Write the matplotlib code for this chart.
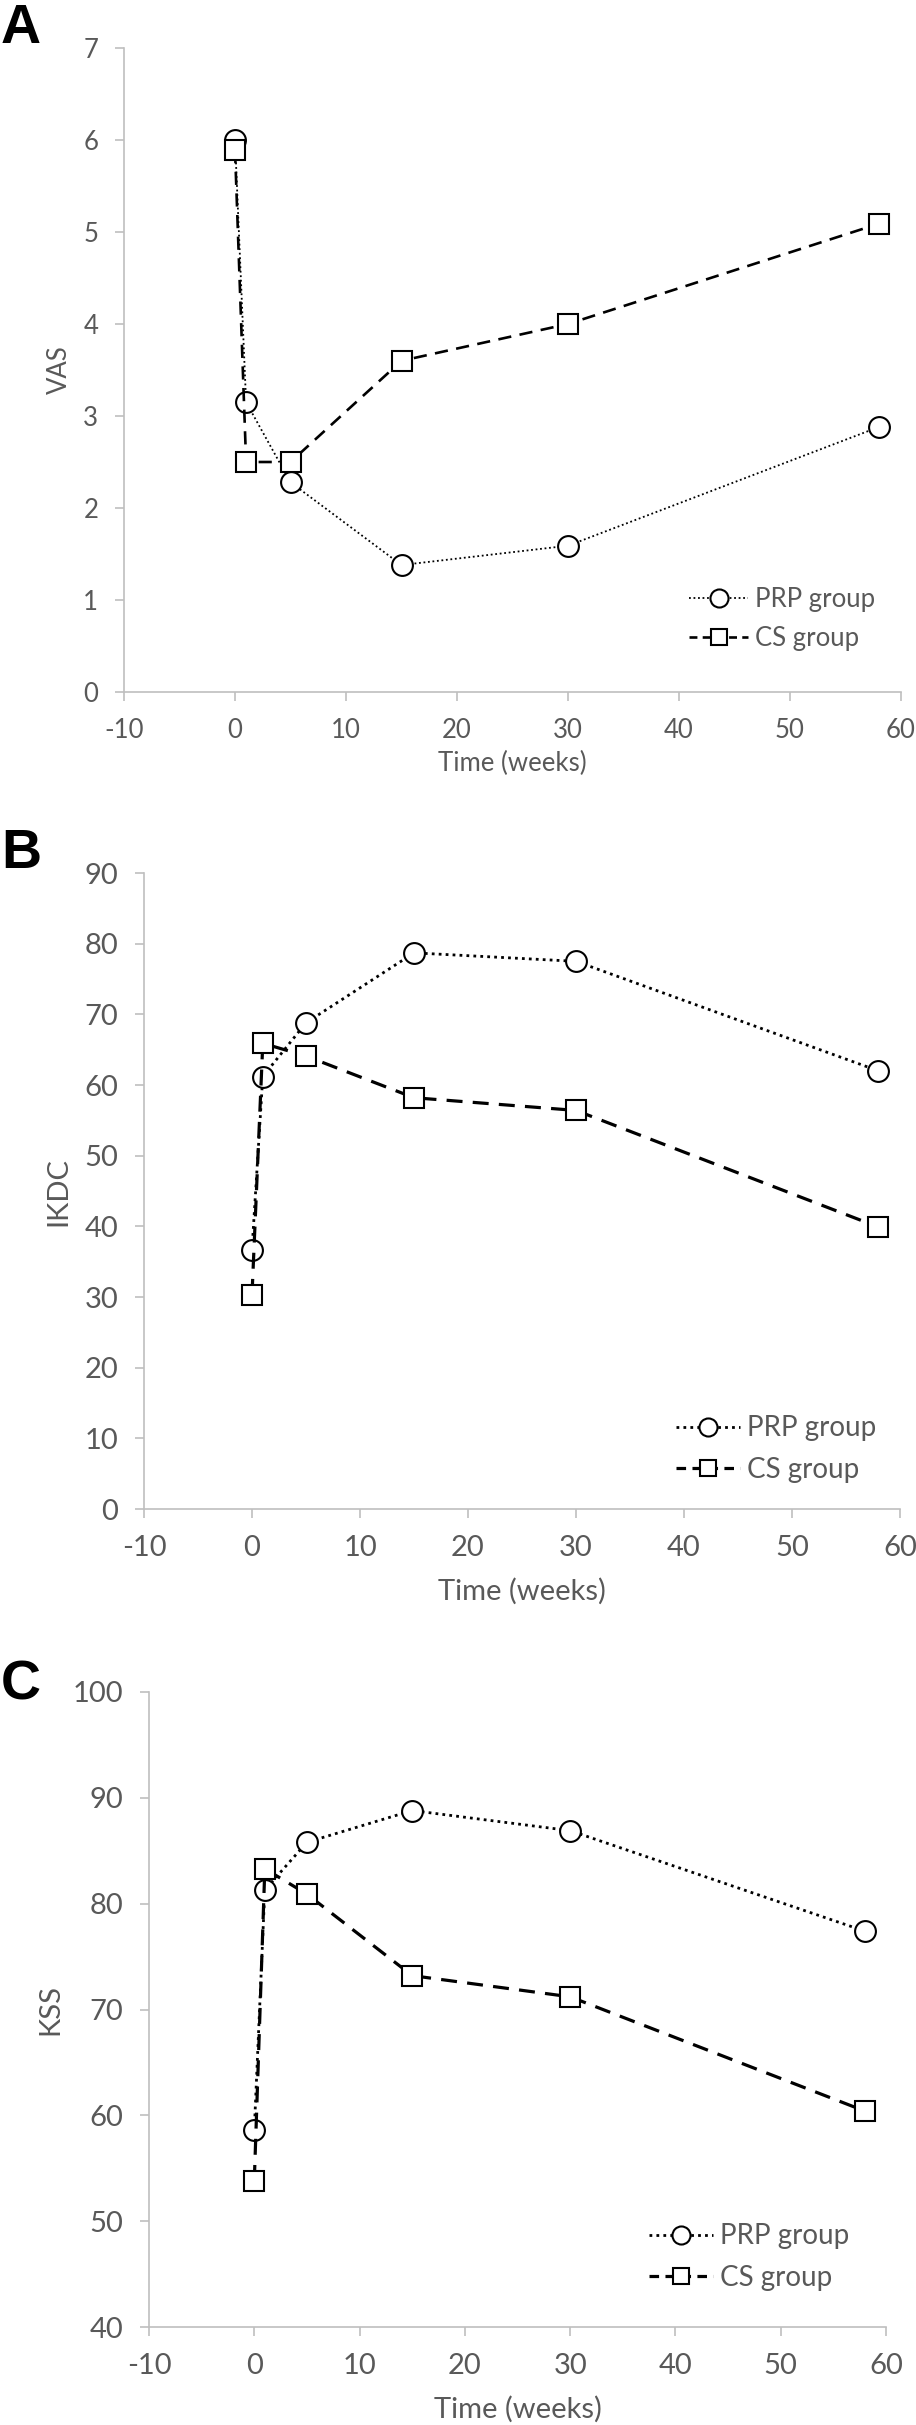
import matplotlib
matplotlib.use('Agg')
import matplotlib.pyplot as plt
from matplotlib.lines import Line2D

plt.rcParams['font.family'] = ['Lato', 'DejaVu Sans']
plt.rcParams['axes.unicode_minus'] = False

# time points (weeks)
weeks = [0, 1, 5, 15, 30, 58]

# panel A - VAS
vas_prp = [6.0, 3.15, 2.28, 1.38, 1.59, 2.88]
vas_cs = [5.89, 2.5, 2.5, 3.6, 4.0, 5.09]

# panel B - IKDC
ikdc_prp = [36.7, 61.2, 68.8, 78.7, 77.5, 62.0]
ikdc_cs = [30.3, 65.9, 64.1, 58.2, 56.4, 39.9]

# panel C - KSS
kss_prp = [58.6, 81.3, 85.8, 88.8, 86.9, 77.4]
kss_cs = [53.8, 83.3, 80.9, 73.2, 71.2, 60.4]

xticks = [-10, 0, 10, 20, 30, 40, 50, 60]
labels = ['PRP group', 'CS group']

W, H = 916, 2425
GRAY = '#595959'
AXC = '#BFBFBF'

fig = plt.figure(figsize=(W / 100, H / 100), dpi=100)


def add_panel(box, prp, cs, ylim, ystep, ylabel, fs, letter, letter_base,
              ylab_x, xlab_y, leg_xy, leg_fs, dot_lw, dash_lw):
    l, r, t, b = box
    ax = fig.add_axes([l / W, 1 - b / H, (r - l) / W, (b - t) / H])
    ax.plot(weeks, prp, color='black', lw=dot_lw, ls=(0, (1, 1.5)),
            marker='o', ms=15, mfc='white', mec='black', mew=1.5, clip_on=False)
    ax.plot(weeks, cs, color='black', lw=dash_lw, ls=(0, (5, 3.2)),
            marker='s', ms=14, mfc='white', mec='black', mew=1.5, clip_on=False)
    ax.set_xlim(-10, 60)
    ax.set_ylim(*ylim)
    ax.set_xticks(xticks)
    yt = list(range(ylim[0], ylim[1] + 1, ystep))
    ax.set_yticks(yt)
    for s in ['top', 'right']:
        ax.spines[s].set_visible(False)
    for s in ['left', 'bottom']:
        ax.spines[s].set_color(AXC)
        ax.spines[s].set_linewidth(1.2)
    ax.tick_params(direction='out', length=6.5, width=1.2, color=AXC,
                   labelcolor=GRAY, labelsize=fs, pad=12)
    ax.set_ylabel(ylabel, fontsize=fs, color=GRAY)
    ax.yaxis.set_label_coords(ylab_x / W, 1 - (t + b) / 2 / H, transform=fig.transFigure)
    ax.yaxis.label.set_va('center')
    ax.set_xlabel('Time (weeks)', fontsize=fs, color=GRAY)
    ax.xaxis.set_label_coords((l + r) / 2 / W, 1 - xlab_y / H, transform=fig.transFigure)
    ax.xaxis.label.set_va('center')

    handles = [
        Line2D([], [], color='black', lw=dot_lw, ls=(0, (1, 1.5)), marker='o',
               ms=13, mfc='white', mec='black', mew=1.5),
        Line2D([], [], color='black', lw=dash_lw, ls=(0, (3, 2)), marker='s',
               ms=12, mfc='white', mec='black', mew=1.5),
    ]
    ax.legend(handles, labels, loc='center left',
              bbox_to_anchor=(leg_xy[0] / W, 1 - leg_xy[1] / H),
              bbox_transform=fig.transFigure, frameon=False, borderpad=0,
              borderaxespad=0, handlelength=2.3, handletextpad=0.25,
              labelspacing=0.55, numpoints=1, fontsize=leg_fs, labelcolor=GRAY)

    fig.text(1 / W, 1 - letter_base / H, letter, fontsize=40, fontweight='bold',
             family='Liberation Sans', ha='left', va='baseline', color='black')
    return ax


add_panel((124, 901, 48, 692), vas_prp, vas_cs, (0, 7), 1, 'VAS', 18.5,
          'A', 43, 59, 763, (689, 619), 18.5, 1.3, 1.9)
add_panel((144, 900, 873, 1509), ikdc_prp, ikdc_cs, (0, 90), 10, 'IKDC', 21,
          'B', 868, 58, 1591, (676, 1449), 20, 2.0, 2.3)
add_panel((149, 886, 1692, 2327), kss_prp, kss_cs, (40, 100), 10, 'KSS', 21,
          'C', 1699, 50, 2409, (649, 2257), 20, 2.0, 2.3)

fig.savefig('out.png', dpi=100, facecolor='white')
